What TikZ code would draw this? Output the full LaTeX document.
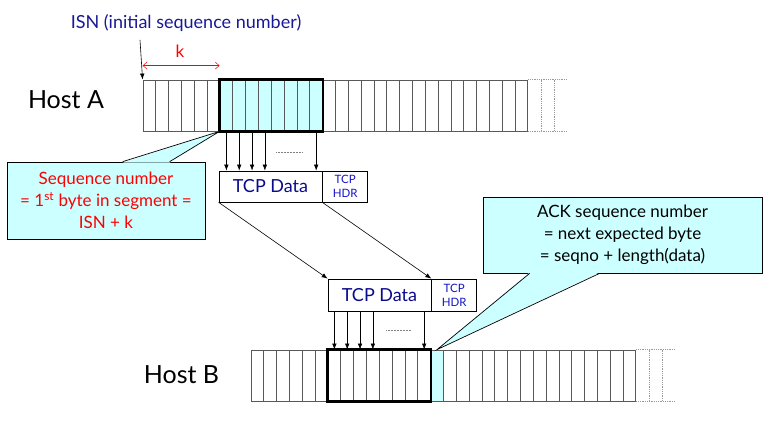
\documentclass[tikz,border=0pt]{standalone}
\usepackage{fontspec}
\setmainfont{Lato}
\usetikzlibrary{arrows.meta,positioning}

\definecolor{notecyan}{RGB}{204,255,255}
\definecolor{isnblue}{RGB}{25,25,150}
\definecolor{datablue}{RGB}{10,10,140}
\definecolor{hdrblue}{RGB}{20,20,200}

\begin{document}
\begin{tikzpicture}[x=1pt,y=-1pt]
\tikzset{cell/.style = {shape=rectangle,draw=black!65,line width=0.8pt,minimum width=12.83pt,minimum height=51pt,inner sep=0pt}}
\tikzset{edge/.style = {-{Latex[length=6pt,width=4.5pt]},line width=0.6pt}}
\tikzset{kedge/.style = {{Straight Barb[length=4pt,width=7pt]}-{Straight Barb[length=4pt,width=7pt]},red,line width=0.5pt}}
\tikzset{tail/.style = {densely dotted,black!40,line width=0.8pt}}
\tikzset{pkt/.style = {shape=rectangle,draw,line width=0.7pt,minimum width=103pt,minimum height=31pt,inner sep=0pt,text=datablue,font=\fontsize{18}{20}\selectfont}}
\tikzset{hdr/.style = {shape=rectangle,draw,line width=0.7pt,minimum width=45pt,minimum height=31pt,inner sep=0pt,align=center,text=hdrblue,font=\fontsize{11.5}{14}\selectfont}}
\tikzset{note/.style = {shape=rectangle,draw,line width=0.7pt,fill=notecyan,inner sep=0pt,align=center,font=\fontsize{17}{22}\selectfont}}
\tikzset{host/.style = {font=\fontsize{25}{28}\selectfont}}

\useasboundingbox (0,0) rectangle (767,420);

% sender and receiver byte streams
\foreach \i in {0,...,29}{
\pgfmathtruncatemacro{\pc}{(\i>5)*(\i<14)*100}
\node[cell,fill=notecyan!\pc!white] (a\i) at ({149.4+12.83*\i},105.5) {};
}
\foreach \i in {0,...,29}{
\pgfmathtruncatemacro{\pc}{(\i==14)*100}
\node[cell,fill=notecyan!\pc!white] (b\i) at ({257.4+12.83*\i},375.5) {};
}
\foreach \s in {a,b}{
\draw[tail] (\s29.north east) -- ++(38,0) (\s29.south east) -- ++(38,0);
\foreach \d in {1,2}
\draw[tail] (\s29.north east) ++({12.83*\d},0) -- ++(0,51);
\draw[line width=2.7pt] (\s6.north west) rectangle (\s13.south east);
}

\node[host] (hostA) at (66,100) {Host A};
\node[host] (hostB) at (181.5,375) {Host B};

% ISN and offset k
\node[text=isnblue,font=\fontsize{18}{20}\selectfont] (isn) at (186,23) {ISN (initial sequence number)};
\coordinate (isnfoot) at (140,40);
\draw[edge] (isnfoot) -- (a0.north west);
\node[text=red,font=\fontsize{17}{20}\selectfont] (k) at (180,51) {k};
\draw[kedge] ([yshift=14pt]a0.north west) -- ([yshift=14pt]a6.north west);

% segments
\node[pkt] (dataA) at (270.5,186.5) {TCP Data};
\node[hdr,right=0pt of dataA] (hdrA) {TCP\\HDR};
\node[pkt,minimum height=32pt] (dataB) at (379.5,295) {TCP Data};
\node[hdr,minimum height=32pt,right=0pt of dataB] (hdrB) {TCP\\HDR};

\foreach \i in {6,7,8,9,13}{
\draw[edge] (a\i.south) -- (a\i.south |- dataA.north);
\draw[edge] (b\i.north |- dataB.south) -- (b\i.north);
}
\coordinate (gapA) at (276,152);
\coordinate (gapB) at (386,330);
\draw[densely dotted,black!50,line width=0.5pt] (gapA) -- ++(26,0) (gapB) -- ++(25,0);

\draw[edge] (dataA.south west) -- (dataB.north west);
\draw[edge] (dataA.south east) -- (dataB.north east);

% callouts
\node[note,text=red,minimum width=198pt,minimum height=77pt] (seqnote) at (106,200.5) {Sequence number\\= 1\textsuperscript{st} byte in segment =\\ISN + k};
\fill[notecyan] ([xshift=116pt,yshift=-1pt]seqnote.north west) -- (a6.south west) -- ([xshift=163pt,yshift=-1pt]seqnote.north west) -- cycle;
\draw[line width=0.7pt] ([xshift=116pt]seqnote.north west) -- (a6.south west) -- ([xshift=163pt]seqnote.north west);

\node[note,minimum width=279pt,minimum height=76pt] (acknote) at (622.5,235) {ACK sequence number\\= next expected byte\\= seqno + length(data)};
\fill[notecyan] ([xshift=47pt,yshift=1pt]acknote.south west) -- (b14.north) -- ([xshift=117pt,yshift=1pt]acknote.south west) -- cycle;
\draw[line width=0.7pt] ([xshift=47pt]acknote.south west) -- (b14.north) -- ([xshift=117pt]acknote.south west);
\end{tikzpicture}
\end{document}
